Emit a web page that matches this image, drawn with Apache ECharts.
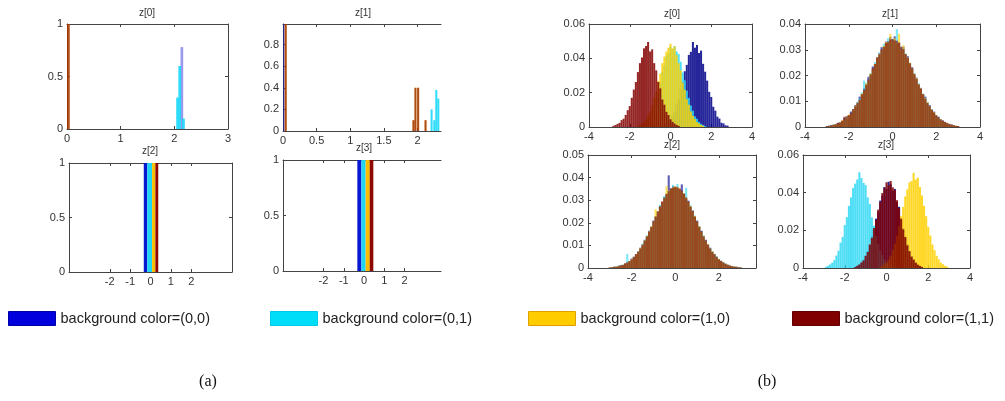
<!DOCTYPE html>
<html><head><meta charset="utf-8">
<script src="https://cdn.jsdelivr.net/npm/echarts@6/dist/echarts.min.js"></script>
<style>html,body{margin:0;padding:0;background:#fff;}#c{width:1005px;height:401px;}</style>
</head><body><div id="c"></div>
<script>
// ---------- names / labels ----------
const seriesNames = ['background color=(0,0)', 'background color=(0,1)', 'background color=(1,0)', 'background color=(1,1)'];
const panelTitles = ['z[0]', 'z[1]', 'z[2]', 'z[3]', 'z[0]', 'z[1]', 'z[2]', 'z[3]'];
const figureLabels = ['(a)', '(b)'];

// ---------- tick values ----------
const ticksA0x = [0, 1, 2, 3];
const ticksA1x = [0, 0.5, 1, 1.5, 2];
const ticksA23x = [-2, -1, 0, 1, 2];
const ticksAy = [0, 0.5, 1];
const ticksA1y = [0, 0.2, 0.4, 0.6, 0.8];
const ticksBx = [-4, -2, 0, 2, 4];
const ticksB2x = [-4, -2, 0, 2];
const ticksB0y = [0, 0.02, 0.04, 0.06];
const ticksB1y = [0, 0.01, 0.02, 0.03, 0.04];
const ticksB2y = [0, 0.01, 0.02, 0.03, 0.04, 0.05];
const ticksB3y = [0, 0.02, 0.04, 0.06];

// ---------- (a) z[0], z[1]: thin bars [x, height] ----------
const a0Blue = [[2.14, 0.78]];
const a0Cyan = [[2.06, 0.30], [2.10, 0.60], [2.17, 0.10]];
const a0Yellow = [[0.025, 1.0]];
const a0DarkRed = [[0.025, 1.0]];

const a1Blue = [[0.012, 1.0]];
const a1Cyan = [[2.21, 0.20], [2.25, 0.10], [2.28, 0.38], [2.31, 0.30]];
const a1Yellow = [[0.04, 1.0], [1.94, 0.10], [1.97, 0.40], [2.01, 0.40], [2.12, 0.10]];
const a1DarkRed = [[0.04, 1.0], [1.94, 0.10], [1.97, 0.40], [2.01, 0.40], [2.12, 0.10]];

// ---------- (a) z[2], z[3]: bands [x0, x1, height] ----------
const a2Blue = [[-0.33, -0.16, 1]];
const a2Cyan = [[-0.16, 0.08, 1]];
const a2Yellow = [[0.08, 0.24, 1]];
const a2DarkRed = [[0.24, 0.38, 1]];
const a3Blue = [[-0.33, -0.13, 1]];
const a3Cyan = [[-0.13, 0.08, 1]];
const a3Yellow = [[0.08, 0.28, 1]];
const a3DarkRed = [[0.28, 0.46, 1]];

// ---------- (b) histograms: bin width 0.1, first bin centre given ----------
const binWidthB = 0.1;

const b0NavyStart = -0.4;
const b0Navy = [0.0005,0.0013,0.0017,0.0030,0.0042,0.0068,0.0088,0.0131,0.0162,0.0220,0.0262,0.0325,0.0362,0.0420,0.0438,0.0495,0.0462,0.0478,0.0431,0.0445,0.0368,0.0322,0.0270,0.0205,0.0175,0.0118,0.0095,0.0060,0.0049,0.0025,0.0021,0.0010,0.0008];
const b0CyanStart = -1.5;
const b0Cyan = [0.0007,0.0011,0.0021,0.0028,0.0047,0.0062,0.0094,0.0122,0.0175,0.0200,0.0262,0.0320,0.0360,0.0415,0.0430,0.0468,0.0452,0.0472,0.0440,0.0425,0.0380,0.0318,0.0272,0.0212,0.0170,0.0125,0.0095,0.0062,0.0048,0.0030,0.0019,0.0012,0.0006];
const b0YellowStart = -1.6;
const b0Yellow = [0.0006,0.0012,0.0020,0.0030,0.0044,0.0068,0.0090,0.0128,0.0170,0.0208,0.0268,0.0312,0.0372,0.0410,0.0440,0.0462,0.0485,0.0458,0.0470,0.0418,0.0372,0.0330,0.0258,0.0218,0.0162,0.0130,0.0090,0.0065,0.0046,0.0028,0.0020,0.0011,0.0007];
const b0DarkRedStart = -2.8;
const b0DarkRed = [0.0007,0.0012,0.0018,0.0024,0.0040,0.0048,0.0070,0.0098,0.0122,0.0170,0.0218,0.0262,0.0320,0.0372,0.0405,0.0458,0.0472,0.0495,0.0440,0.0452,0.0372,0.0330,0.0262,0.0225,0.0160,0.0130,0.0088,0.0070,0.0045,0.0030,0.0020,0.0012,0.0007];

const b1Start = -3.0;
const b1Navy = [0.0004,0.0002,0.0008,0.0006,0.0010,0.0016,0.0015,0.0022,0.0035,0.0032,
  0.0044,0.0060,0.0062,0.0085,0.0090,0.0118,0.0122,0.0150,0.0158,0.0195,
  0.0200,0.0235,0.0240,0.0272,0.0278,0.0310,0.0305,0.0332,0.0325,0.0350,
  0.0338,0.0352,0.0322,0.0330,0.0305,0.0312,0.0280,0.0275,0.0240,0.0232,
  0.0200,0.0192,0.0160,0.0152,0.0125,0.0118,0.0090,0.0085,0.0062,0.0060,
  0.0042,0.0040,0.0028,0.0026,0.0018,0.0016,0.0010,0.0010,0.0006,0.0004,0.0003];
const b1Cyan = [0.0003,0.0006,0.0004,0.0010,0.0008,0.0014,0.0020,0.0018,0.0028,0.0040,
  0.0042,0.0055,0.0070,0.0078,0.0098,0.0110,0.0135,0.0180,0.0172,0.0185,
  0.0210,0.0218,0.0252,0.0260,0.0290,0.0295,0.0322,0.0318,0.0345,0.0330,
  0.0342,0.0330,0.0380,0.0318,0.0310,0.0298,0.0285,0.0262,0.0250,0.0225,
  0.0210,0.0182,0.0170,0.0145,0.0130,0.0112,0.0098,0.0078,0.0070,0.0055,
  0.0046,0.0038,0.0030,0.0022,0.0020,0.0014,0.0012,0.0008,0.0006,0.0004,0.0002];
const b1Yellow = [0.0002,0.0004,0.0006,0.0008,0.0012,0.0012,0.0018,0.0026,0.0030,0.0036,
  0.0048,0.0052,0.0066,0.0082,0.0092,0.0105,0.0130,0.0142,0.0170,0.0180,
  0.0208,0.0225,0.0245,0.0270,0.0282,0.0298,0.0315,0.0330,0.0328,0.0362,
  0.0335,0.0345,0.0325,0.0362,0.0302,0.0318,0.0282,0.0270,0.0250,0.0228,
  0.0208,0.0190,0.0165,0.0150,0.0128,0.0112,0.0096,0.0080,0.0066,0.0058,
  0.0045,0.0036,0.0030,0.0024,0.0018,0.0015,0.0012,0.0008,0.0007,0.0005,0.0003];
const b1DarkRed = [0.0003,0.0005,0.0006,0.0009,0.0011,0.0016,0.0018,0.0025,0.0040,0.0042,
  0.0046,0.0055,0.0070,0.0080,0.0095,0.0105,0.0128,0.0145,0.0165,0.0185,
  0.0205,0.0228,0.0245,0.0268,0.0285,0.0300,0.0312,0.0326,0.0332,0.0340,
  0.0342,0.0336,0.0335,0.0326,0.0312,0.0302,0.0284,0.0268,0.0248,0.0228,
  0.0206,0.0186,0.0166,0.0148,0.0128,0.0110,0.0094,0.0080,0.0068,0.0056,
  0.0046,0.0038,0.0030,0.0024,0.0020,0.0015,0.0012,0.0009,0.0007,0.0005,0.0004];

const b2Start = -3.0;
const b2Navy = [0.0002,0.0003,0.0006,0.0004,0.0010,0.0012,0.0012,0.0020,0.0026,0.0028,
  0.0042,0.0046,0.0062,0.0070,0.0090,0.0100,0.0125,0.0140,0.0165,0.0178,
  0.0210,0.0225,0.0250,0.0275,0.0290,0.0315,0.0325,0.0410,0.0352,0.0362,
  0.0355,
  0.0350,0.0348,0.0370,0.0330,0.0305,0.0298,0.0270,0.0255,0.0225,0.0210,
  0.0180,0.0165,0.0138,0.0125,0.0100,0.0090,0.0070,0.0062,0.0046,0.0040,
  0.0030,0.0025,0.0018,0.0015,0.0010,0.0008,0.0005,0.0006,0.0003,0.0002];
const b2Cyan = [0.0001,0.0004,0.0004,0.0007,0.0008,0.0014,0.0015,0.0018,0.0062,0.0032,
  0.0038,0.0050,0.0058,0.0075,0.0085,0.0108,0.0120,0.0145,0.0158,0.0185,
  0.0202,0.0230,0.0245,0.0280,0.0285,0.0318,0.0330,0.0340,0.0348,0.0368,
  0.0350,
  0.0372,0.0340,0.0338,0.0328,0.0355,0.0290,0.0278,0.0250,0.0232,0.0205,
  0.0185,0.0160,0.0145,0.0122,0.0105,0.0088,0.0075,0.0060,0.0052,0.0040,
  0.0032,0.0024,0.0020,0.0014,0.0011,0.0008,0.0007,0.0004,0.0003,0.0002];
const b2Yellow = [0.0002,0.0003,0.0005,0.0006,0.0009,0.0011,0.0014,0.0019,0.0024,0.0030,
  0.0040,0.0048,0.0060,0.0072,0.0088,0.0102,0.0122,0.0142,0.0162,0.0185,
  0.0205,0.0260,0.0250,0.0272,0.0292,0.0310,0.0362,0.0342,0.0350,0.0358,
  0.0362,
  0.0356,0.0352,0.0340,0.0330,0.0312,0.0292,0.0275,0.0252,0.0230,0.0205,
  0.0185,0.0160,0.0142,0.0120,0.0105,0.0086,0.0074,0.0060,0.0048,0.0040,
  0.0030,0.0025,0.0018,0.0015,0.0011,0.0008,0.0006,0.0005,0.0003,0.0002];
const b2DarkRed = [0.0002,0.0003,0.0005,0.0006,0.0008,0.0012,0.0014,0.0020,0.0024,0.0031,
  0.0038,0.0050,0.0060,0.0073,0.0086,0.0104,0.0120,0.0140,0.0160,0.0182,
  0.0206,0.0228,0.0250,0.0272,0.0295,0.0310,0.0328,0.0340,0.0352,0.0356,
  0.0360,
  0.0358,0.0352,0.0342,0.0328,0.0312,0.0294,0.0272,0.0252,0.0228,0.0206,
  0.0183,0.0162,0.0140,0.0122,0.0104,0.0086,0.0072,0.0060,0.0050,0.0038,
  0.0032,0.0024,0.0019,0.0014,0.0011,0.0008,0.0006,0.0005,0.0003,0.0002];

const b3NavyStart = -1.5;
const b3Navy = [0.0006,0.0010,0.0020,0.0026,0.0044,0.0060,0.0090,0.0118,0.0168,0.0200,0.0262,0.0298,0.0358,0.0385,0.0430,0.0420,0.0458,0.0445,0.0410,0.0420,0.0350,0.0325,0.0255,0.0212,0.0158,0.0125,0.0085,0.0064,0.0042,0.0030,0.0017,0.0012,0.0005];
const b3CyanStart = -2.9;
const b3Cyan = [0.0006,0.0012,0.0019,0.0028,0.0042,0.0066,0.0092,0.0135,0.0165,0.0228,0.0270,0.0330,0.0375,0.0425,0.0448,0.0470,0.0508,0.0478,0.0452,0.0440,0.0375,0.0340,0.0268,0.0225,0.0170,0.0128,0.0092,0.0068,0.0044,0.0030,0.0018,0.0012,0.0006];
const b3YellowStart = -0.3;
const b3Yellow = [0.0006,0.0011,0.0020,0.0028,0.0045,0.0064,0.0095,0.0128,0.0172,0.0222,0.0275,0.0325,0.0380,0.0418,0.0455,0.0462,0.0505,0.0470,0.0480,0.0430,0.0385,0.0330,0.0275,0.0218,0.0172,0.0125,0.0095,0.0065,0.0046,0.0029,0.0020,0.0011,0.0007];
const b3DarkRedStart = -1.5;
const b3DarkRed = [0.0005,0.0012,0.0018,0.0030,0.0040,0.0065,0.0085,0.0125,0.0160,0.0212,0.0255,0.0310,0.0350,0.0398,0.0425,0.0455,0.0440,0.0462,0.0428,0.0415,0.0360,0.0318,0.0262,0.0205,0.0165,0.0120,0.0090,0.0060,0.0045,0.0028,0.0018,0.0011,0.0006];

// ---------- styles ----------
const FONT = 'Liberation Sans';
const aColors = ['#0000d8', '#18d8f8', '#f8c400', '#880000'];
const aOpacity = [0.4, 0.9, 0.7, 0.65];
const bandColors = ['#0818d0', '#20d4f4', '#f8bc00', '#8c0800'];
const bColors = ['#000088', '#30d8f4', '#ffd000', '#820000'];
const bOpacitySep = 0.85;
const bOpacityMix = 0.62;
const legendColors = ['#0000dd', '#00ddf8', '#ffcc00', '#800000'];
const legendBorders = ['#0000aa', '#00c8e8', '#e0a000', '#600000'];
const legendLefts = [8, 270, 528, 792];

const grids = [
  {left: 67, top: 24, width: 161, height: 105},
  {left: 283, top: 24, width: 158, height: 107},
  {left: 69, top: 163, width: 163, height: 109},
  {left: 283, top: 160, width: 158, height: 111},
  {left: 589, top: 24, width: 163, height: 103},
  {left: 805, top: 24, width: 175, height: 103},
  {left: 588, top: 155, width: 168, height: 113},
  {left: 803, top: 155, width: 167, height: 113}
];
const axesCfg = [
  {xmin: 0, xmax: 3, xt: ticksA0x, ymin: 0, ymax: 1, yt: ticksAy, right: true},
  {xmin: 0, xmax: 2.35, xt: ticksA1x, ymin: 0, ymax: 0.99, yt: ticksA1y, right: false},
  {xmin: -4, xmax: 4, xt: ticksA23x, ymin: 0, ymax: 1, yt: ticksAy, right: true},
  {xmin: -4, xmax: 3.8, xt: ticksA23x, ymin: 0, ymax: 1, yt: ticksAy, right: false},
  {xmin: -4, xmax: 4, xt: ticksBx, ymin: 0, ymax: 0.06, yt: ticksB0y, right: true},
  {xmin: -4, xmax: 4, xt: ticksBx, ymin: 0, ymax: 0.04, yt: ticksB1y, right: true},
  {xmin: -4, xmax: 3.7, xt: ticksB2x, ymin: 0, ymax: 0.05, yt: ticksB2y, right: true},
  {xmin: -4, xmax: 4, xt: ticksBx, ymin: 0, ymax: 0.06, yt: ticksB3y, right: true}
];
const titlePos = [[147, 13], [363, 13], [150, 151], [364, 148], [672, 14], [890, 14], [672, 145], [886, 145]];

const lineStyle = {color: '#444', width: 1};
const xAxes = [], yAxes = [];
axesCfg.forEach((c, i) => {
  const base = {type: 'value', gridIndex: i, min: c.xmin, max: c.xmax, splitLine: {show: false}};
  xAxes.push(Object.assign({}, base, {position: 'bottom',
    axisLine: {show: true, onZero: false, lineStyle: lineStyle},
    axisTick: {show: true, inside: true, length: 3, lineStyle: lineStyle, customValues: c.xt},
    axisLabel: {show: true, margin: 4, color: '#333', fontFamily: FONT, fontSize: 11, customValues: c.xt}}));
  xAxes.push(Object.assign({}, base, {position: 'top',
    axisLine: {show: true, onZero: false, lineStyle: lineStyle},
    axisTick: {show: true, inside: true, length: 3, lineStyle: lineStyle, customValues: c.xt},
    axisLabel: {show: false, customValues: c.xt}}));
  const ybase = {type: 'value', gridIndex: i, min: c.ymin, max: c.ymax, splitLine: {show: false}};
  yAxes.push(Object.assign({}, ybase, {position: 'left',
    axisLine: {show: true, onZero: false, lineStyle: lineStyle},
    axisTick: {show: true, inside: true, length: 3, lineStyle: lineStyle, customValues: c.yt},
    axisLabel: {show: true, margin: 4, color: '#333', fontFamily: FONT, fontSize: 11, customValues: c.yt}}));
  yAxes.push(Object.assign({}, ybase, {position: 'right',
    axisLine: {show: c.right, onZero: false, lineStyle: lineStyle},
    axisTick: {show: c.right, inside: true, length: 3, lineStyle: lineStyle, customValues: c.yt},
    axisLabel: {show: false, customValues: c.yt}}));
});

function clipRect(r, params) {
  return echarts.graphic.clipRectByRect(r, {
    x: params.coordSys.x, y: params.coordSys.y,
    width: params.coordSys.width, height: params.coordSys.height});
}
function barRender(hw, color, opacity) {
  return function (params, api) {
    const x = api.value(0), y = api.value(1);
    const p0 = api.coord([x - hw, y]);
    const p1 = api.coord([x + hw, 0]);
    const r = clipRect({x: p0[0], y: p0[1], width: Math.max(p1[0] - p0[0], 0.8), height: p1[1] - p0[1]}, params);
    if (!r) return;
    return {type: 'rect', shape: r, style: {fill: color, opacity: opacity}};
  };
}
function bandRender(color) {
  return function (params, api) {
    const x0 = api.value(0), x1 = api.value(1), h = api.value(2);
    const p0 = api.coord([x0, h]);
    const p1 = api.coord([x1, 0]);
    const r = clipRect({x: p0[0], y: p0[1], width: p1[0] - p0[0], height: p1[1] - p0[1]}, params);
    if (!r) return;
    return {type: 'rect', shape: r, style: {fill: color}};
  };
}
const series = [];
function addBars(panel, k, data, hw, color, opacity) {
  series.push({type: 'custom', name: seriesNames[k], coordinateSystem: 'cartesian2d',
    xAxisIndex: panel * 2, yAxisIndex: panel * 2, renderItem: barRender(hw, color, opacity),
    encode: {x: 0, y: 1}, data: data, silent: true});
}
function addBands(panel, k, data) {
  series.push({type: 'custom', name: seriesNames[k], coordinateSystem: 'cartesian2d',
    xAxisIndex: panel * 2, yAxisIndex: panel * 2, renderItem: bandRender(bandColors[k]),
    encode: {x: [0, 1], y: 2}, data: data, silent: true});
}
function hist(start, values) {
  return values.map((v, i) => [Math.round((start + i * binWidthB) * 100) / 100, v]);
}

[a0Blue, a0Cyan, a0Yellow, a0DarkRed].forEach((d, k) => addBars(0, k, d, 0.025, aColors[k], aOpacity[k]));
[a1Blue, a1Cyan, a1Yellow, a1DarkRed].forEach((d, k) => addBars(1, k, d, 0.015, aColors[k], aOpacity[k]));
[a2Blue, a2Cyan, a2Yellow, a2DarkRed].forEach((d, k) => addBands(2, k, d));
[a3Blue, a3Cyan, a3Yellow, a3DarkRed].forEach((d, k) => addBands(3, k, d));

const hwB = binWidthB / 2;
[hist(b0NavyStart, b0Navy), hist(b0CyanStart, b0Cyan), hist(b0YellowStart, b0Yellow), hist(b0DarkRedStart, b0DarkRed)]
  .forEach((d, k) => addBars(4, k, d, hwB, bColors[k], bOpacitySep));
[hist(b1Start, b1Navy), hist(b1Start, b1Cyan), hist(b1Start, b1Yellow), hist(b1Start, b1DarkRed)]
  .forEach((d, k) => addBars(5, k, d, hwB, bColors[k], bOpacityMix));
[hist(b2Start, b2Navy), hist(b2Start, b2Cyan), hist(b2Start, b2Yellow), hist(b2Start, b2DarkRed)]
  .forEach((d, k) => addBars(6, k, d, hwB, bColors[k], bOpacityMix));
[hist(b3NavyStart, b3Navy), hist(b3CyanStart, b3Cyan), hist(b3YellowStart, b3Yellow), hist(b3DarkRedStart, b3DarkRed)]
  .forEach((d, k) => addBars(7, k, d, hwB, bColors[k], bOpacitySep));

const graphics = panelTitles.map((t, i) => ({type: 'text', x: titlePos[i][0], y: titlePos[i][1],
  style: {text: t, fontFamily: FONT, fontSize: 10, fill: '#333', align: 'center', verticalAlign: 'middle'}}));
graphics.push({type: 'text', x: 208, y: 382, style: {text: figureLabels[0], fontFamily: 'Liberation Serif', fontSize: 16, fill: '#111', align: 'center', verticalAlign: 'middle'}});
graphics.push({type: 'text', x: 767, y: 382, style: {text: figureLabels[1], fontFamily: 'Liberation Serif', fontSize: 16, fill: '#111', align: 'center', verticalAlign: 'middle'}});

const legends = seriesNames.map((n, k) => ({
  left: legendLefts[k], top: 311, padding: 0, itemWidth: 47, itemHeight: 14, itemGap: 5, icon: 'rect', selectedMode: false,
  data: [{name: n, itemStyle: {color: legendColors[k], borderColor: legendBorders[k], borderWidth: 1, opacity: 1}}],
  textStyle: {fontFamily: FONT, fontSize: 14.5, color: '#222'}
}));

const chart = echarts.init(document.getElementById('c'), null, {renderer: 'canvas'});
chart.setOption({
  animation: false,
  backgroundColor: '#fff',
  grid: grids,
  xAxis: xAxes,
  yAxis: yAxes,
  legend: legends,
  series: series,
  graphic: graphics
});
</script></body></html>
